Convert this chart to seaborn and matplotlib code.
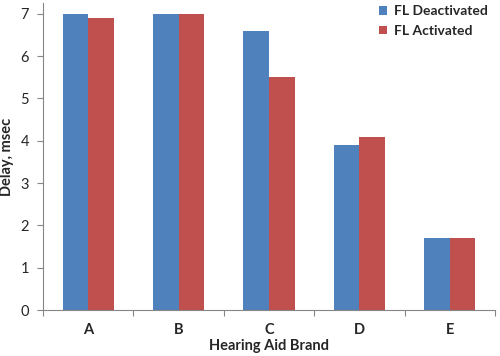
import numpy as np
import pandas as pd
import matplotlib
matplotlib.use("Agg")
import matplotlib.pyplot as plt
import seaborn as sns

brands = ["A", "B", "C", "D", "E"]
series_names = ["FL Deactivated", "FL Activated"]
fl_deactivated = [7.0, 7.0, 6.6, 3.9, 1.7]
fl_activated = [6.9, 7.0, 5.5, 4.1, 1.7]
y_ticks = [0, 1, 2, 3, 4, 5, 6, 7]

df = pd.DataFrame({
    "brand": brands * 2,
    "series": [series_names[0]] * len(brands) + [series_names[1]] * len(brands),
    "delay": fl_deactivated + fl_activated,
})

sns.set_style("white")
plt.rcParams["font.family"] = ["Lato", "DejaVu Sans"]

fig = plt.figure(figsize=(5.0, 3.56), dpi=100)
ax = fig.add_axes([0.086, 0.129, 0.904, 0.862])

palette = {series_names[0]: "#4F81BD", series_names[1]: "#C0504D"}
sns.barplot(data=df, x="brand", y="delay", hue="series", palette=palette,
            width=0.565, gap=0, saturation=1, ax=ax, linewidth=0)

ax.set_xlim(-0.5, len(brands) - 0.5)
ax.set_ylim(0, 7.25)
ax.set_yticks(y_ticks)
ax.tick_params(axis="y", which="major", length=4, width=0.8, color="#868686",
               labelsize=10.5, pad=6, direction="out", left=True)
ax.tick_params(axis="x", which="major", length=0, labelsize=10.5, pad=9)
ax.set_xticks(np.arange(-0.5, len(brands)), minor=True)
ax.tick_params(axis="x", which="minor", length=4, width=0.8, color="#868686",
               direction="out", bottom=True)
for lbl in ax.get_xticklabels():
    lbl.set_fontweight("bold")

for side in ["top", "right"]:
    ax.spines[side].set_visible(False)
for side in ["left", "bottom"]:
    ax.spines[side].set_color("#868686")
    ax.spines[side].set_linewidth(0.8)

ax.set_xlabel("Hearing Aid Brand", fontsize=10.5, fontweight="bold", labelpad=2)
ax.set_ylabel("Delay, msec", fontsize=10.5, fontweight="bold", labelpad=5)

ax.legend(loc="upper left", bbox_to_anchor=(0.758, 0.985), bbox_transform=fig.transFigure,
          frameon=False, borderpad=0, borderaxespad=0,
          handlelength=0.6, handleheight=0.6, handletextpad=0.5,
          labelspacing=0.55, prop={"weight": "bold", "size": 10})

fig.savefig("out.png", dpi=100)
